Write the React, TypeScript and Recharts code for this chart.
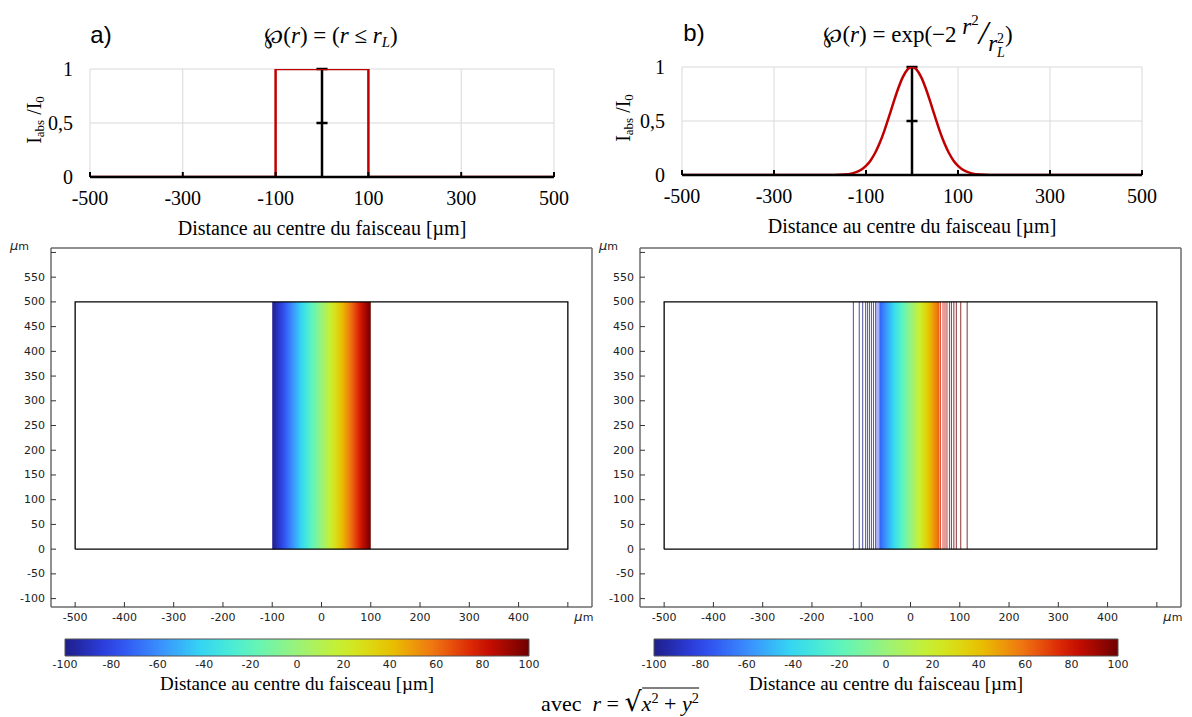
import React from 'react';
import {
  LineChart,
  ComposedChart,
  Line,
  Area,
  XAxis,
  YAxis,
  CartesianGrid,
  ReferenceLine,
  ReferenceArea,
} from 'recharts';

// profils d'intensité (graphes du haut)
const profileTicksX = [-500, -300, -100, 100, 300, 500];
const profileTicksY = [0, 0.5, 1];

const topHatX = [-500, -100, -100, 100, 100, 500];
const topHatI = [0, 0, 1, 1, 0, 0];

const gaussX = [
  -500, -250, -200, -170, -150, -130, -115, -100, -90, -80, -70, -60, -50, -40, -30, -20, -10,
  0, 10, 20, 30, 40, 50, 60, 70, 80, 90, 100, 115, 130, 150, 170, 200, 250, 500,
];
const gaussI = [
  0, 0, 0, 0.001, 0.004, 0.015, 0.038, 0.085, 0.135, 0.206, 0.298, 0.411, 0.54, 0.674, 0.801, 0.906, 0.976,
  1, 0.976, 0.906, 0.801, 0.674, 0.54, 0.411, 0.298, 0.206, 0.135, 0.085, 0.038, 0.015, 0.004, 0.001, 0, 0, 0,
];

// domaine 2D (graphes du bas)
const domainX = [-500, 500, 500, -500, -500];
const domainY = [0, 0, 500, 500, 0];
const gridX = [-500, -400, -300, -200, -100, 0, 100, 200, 300, 400, 500];
const gridY = [-100, -50, 0, 50, 100, 150, 200, 250, 300, 350, 400, 450, 500, 550, 600];

const bandA = [-100, 100];
const bandAColor = [-100, 100];
const bandB = [-63, 59];
const bandBColor = [-72, 64];
const contoursB = [
  -116, -104, -97, -91, -87, -83, -79, -75, -71, -68, -64,
  61, 66, 70, 74, 79, 83, 88, 93, 102, 115,
];

const colorbarTicks = [-100, -80, -60, -40, -20, 0, 20, 40, 60, 80, 100];

const JET: [number, string][] = [
  [-100, '#1f1f8a'],
  [-80, '#2e44ec'],
  [-60, '#3a8cff'],
  [-40, '#34daf2'],
  [-20, '#5cf6c0'],
  [0, '#9af27a'],
  [20, '#ccf02a'],
  [40, '#e8c400'],
  [60, '#f07012'],
  [80, '#d41000'],
  [100, '#6e0000'],
];

function hexToRgb(h: string) {
  return [1, 3, 5].map((i) => parseInt(h.slice(i, i + 2), 16));
}

function jet(v: number) {
  const t = Math.max(-100, Math.min(100, v));
  for (let i = 0; i < JET.length - 1; i++) {
    const [a, ca] = JET[i];
    const [b, cb] = JET[i + 1];
    if (t >= a && t <= b) {
      const f = (t - a) / (b - a);
      const A = hexToRgb(ca);
      const B = hexToRgb(cb);
      const c = A.map((x, k) => Math.round(x + (B[k] - x) * f));
      return `rgb(${c[0]},${c[1]},${c[2]})`;
    }
  }
  return JET[JET.length - 1][1];
}

// les iso-lignes sont un peu plus foncées que le dégradé
const contourColor = (c: number) => jet(Math.sign(c) * Math.min(100, Math.abs(c) + 15));

function gradientStops(from: number, to: number) {
  const n = 24;
  return Array.from({ length: n + 1 }, (_, i) => (
    <stop key={i} offset={i / n} stopColor={jet(from + ((to - from) * i) / n)} />
  ));
}

const serif = '"Liberation Serif", "Times New Roman", serif';
const sans = '"DejaVu Sans", sans-serif';
const frameAxis = { stroke: '#6b6b6b', strokeWidth: 1.5 };
const frameTick = { stroke: '#333', strokeWidth: 1 };

const XTick = (props: any) => {
  const { x, y, payload } = props;
  if (payload.value === 500) {
    return (
      <text x={x + 16} y={y} dy="0.71em" textAnchor="middle" fontSize={11} fill="#222" fontFamily={sans}>
        <tspan fontStyle="italic" fontSize={13}>µ</tspan>m
      </text>
    );
  }
  return (
    <text x={x} y={y} dy="0.71em" textAnchor="middle" fontSize={11} fill="#222" fontFamily={sans}>
      {payload.value}
    </text>
  );
};

const YTick = (props: any) => {
  const { x, y, payload } = props;
  if (payload.value === 600) {
    return (
      <text x={x - 16} y={y - 6} dy="0.32em" textAnchor="end" fontSize={11} fill="#222" fontFamily={sans}>
        <tspan fontStyle="italic" fontSize={13}>µ</tspan>m
      </text>
    );
  }
  return (
    <text x={x} y={y} dy="0.32em" textAnchor="end" fontSize={11} fill="#222" fontFamily={sans}>
      {payload.value}
    </text>
  );
};

function ProfileChart({ left, margin, xs, ys, curve }: any) {
  const data = xs.map((x: number, i: number) => ({ x, i: ys[i] }));
  return (
    <div style={{ position: 'absolute', left, top: 0 }}>
      <LineChart width={600} height={240} data={data} margin={margin}>
        <CartesianGrid stroke="#d9d9d9" strokeWidth={1} />
        <XAxis
          dataKey="x"
          type="number"
          domain={[-500, 500]}
          ticks={profileTicksX}
          interval={0}
          height={50}
          allowDataOverflow
          axisLine={{ stroke: '#000', strokeWidth: 2.5 }}
          tickLine={{ stroke: '#000', strokeWidth: 2 }}
          tickSize={-5}
          tickMargin={19}
          tick={{ fill: '#000', fontSize: 20, fontFamily: serif }}
        />
        <YAxis
          type="number"
          domain={[0, 1]}
          ticks={profileTicksY}
          interval={0}
          width={30}
          allowDataOverflow
          axisLine={false}
          tickLine={false}
          tickSize={0}
          tickMargin={17}
          tickFormatter={(v: number) => String(v).replace('.', ',')}
          tick={{ fill: '#000', fontSize: 20, fontFamily: serif }}
        />
        <ReferenceLine x={0} stroke="#000" strokeWidth={2.5} />
        {profileTicksY.slice(1).map((v) => (
          <ReferenceLine
            key={v}
            segment={[{ x: -12, y: v }, { x: 12, y: v }]}
            stroke="#000"
            strokeWidth={2.5}
          />
        ))}
        <Line
          dataKey="i"
          type={curve}
          stroke="#c00000"
          strokeWidth={2.5}
          dot={false}
          isAnimationActive={false}
        />
      </LineChart>
    </div>
  );
}

function DomainPanel({ left, gid, band, bandColor, contours }: any) {
  const data = domainX.map((x, i) => ({ x, y: domainY[i] }));
  return (
    <div style={{ position: 'absolute', left, top: 230 }}>
      <ComposedChart width={600} height={400} data={data} margin={{ top: 16, right: 6, bottom: 3, left: 11 }}>
        <defs>
          <linearGradient id={gid} x1="0" y1="0" x2="1" y2="0">
            {gradientStops(bandColor[0], bandColor[1])}
          </linearGradient>
        </defs>
        <XAxis
          xAxisId="b"
          dataKey="x"
          type="number"
          domain={[-549, 549]}
          ticks={gridX}
          interval={0}
          height={20}
          allowDataOverflow
          tickSize={-5}
          tickMargin={11}
          axisLine={frameAxis}
          tickLine={frameTick}
          tick={<XTick />}
        />
        <XAxis
          xAxisId="t"
          orientation="top"
          type="number"
          domain={[-549, 549]}
          ticks={gridX}
          interval={0}
          height={2}
          allowDataOverflow
          tickSize={-5}
          axisLine={frameAxis}
          tickLine={frameTick}
          tick={false}
        />
        <YAxis
          yAxisId="l"
          dataKey="y"
          type="number"
          domain={[-117, 609]}
          ticks={gridY}
          interval={0}
          width={40}
          allowDataOverflow
          tickSize={-5}
          tickMargin={11}
          axisLine={frameAxis}
          tickLine={frameTick}
          tick={<YTick />}
        />
        <YAxis
          yAxisId="r"
          orientation="right"
          type="number"
          domain={[-117, 609]}
          ticks={gridY}
          interval={0}
          width={2}
          allowDataOverflow
          tickSize={-5}
          axisLine={frameAxis}
          tickLine={frameTick}
          tick={false}
        />
        <ReferenceArea
          xAxisId="b"
          yAxisId="l"
          x1={band[0]}
          x2={band[1]}
          y1={0}
          y2={500}
          fill={`url(#${gid})`}
          fillOpacity={1}
          stroke="none"
        />
        {contours.map((c: number) => (
          <ReferenceLine
            key={c}
            xAxisId="b"
            yAxisId="l"
            segment={[{ x: c, y: 0 }, { x: c, y: 500 }]}
            stroke={contourColor(c)}
            strokeOpacity={0.8}
            strokeWidth={1}
          />
        ))}
        <Line
          xAxisId="b"
          yAxisId="l"
          dataKey="y"
          type="linear"
          stroke="#000"
          strokeWidth={1.3}
          dot={false}
          isAnimationActive={false}
        />
      </ComposedChart>
    </div>
  );
}

function ColorBar({ left, gid }: any) {
  const data = colorbarTicks.map((v) => ({ v, h: 1 }));
  return (
    <div style={{ position: 'absolute', left, top: 625 }}>
      <ComposedChart width={600} height={60} data={data} margin={{ top: 13, right: 71, bottom: 9, left: 65 }}>
        <defs>
          <linearGradient id={gid} x1="0" y1="0" x2="1" y2="0">
            {gradientStops(-100, 100)}
          </linearGradient>
        </defs>
        <XAxis
          dataKey="v"
          type="number"
          domain={[-100, 100]}
          ticks={colorbarTicks}
          interval={0}
          height={20}
          allowDataOverflow
          axisLine={false}
          tickLine={false}
          tickSize={0}
          tickMargin={4}
          tick={{ fill: '#222', fontSize: 11, fontFamily: sans }}
        />
        <XAxis
          xAxisId="t"
          orientation="top"
          type="number"
          domain={[-100, 100]}
          ticks={colorbarTicks}
          interval={0}
          height={1}
          allowDataOverflow
          axisLine={false}
          tickSize={-4}
          tickLine={{ stroke: '#333', strokeWidth: 1 }}
          tick={false}
        />
        <YAxis type="number" domain={[0, 1]} hide allowDataOverflow />
        <Area
          dataKey="h"
          type="linear"
          stroke="none"
          fill={`url(#${gid})`}
          fillOpacity={1}
          isAnimationActive={false}
        />
        <ReferenceArea x1={-100} x2={100} y1={0} y2={1} fill="none" stroke="#555" strokeWidth={1} />
      </ComposedChart>
    </div>
  );
}

const at = (x: number, y: number, extra: React.CSSProperties = {}): React.CSSProperties => ({
  position: 'absolute',
  left: x,
  top: y,
  transform: 'translate(-50%, -50%)',
  whiteSpace: 'nowrap',
  lineHeight: 1,
  ...extra,
});

const sub: React.CSSProperties = { fontSize: '0.65em', verticalAlign: '-0.3em' };
const sup: React.CSSProperties = { fontSize: '0.65em', verticalAlign: '0.55em' };

function YLabel({ x, y }: { x: number; y: number }) {
  return (
    <div style={at(x, y, { transform: 'translate(-50%, -50%) rotate(-90deg)', fontFamily: serif, fontSize: 20 })}>
      I<span style={sub}>abs</span> /I<span style={sub}>0</span>
    </div>
  );
}

export default function App() {
  const xTitle = 'Distance au centre du faisceau [µm]';
  return (
    <div style={{ position: 'absolute', left: 0, top: 0, width: 1192, height: 717, background: '#fff', overflow: 'hidden' }}>
      <ProfileChart
        left={0}
        margin={{ top: 69, right: 46, bottom: 13, left: 60 }}
        xs={topHatX}
        ys={topHatI}
        curve="linear"
      />
      <ProfileChart
        left={590}
        margin={{ top: 67, right: 48, bottom: 15, left: 62 }}
        xs={gaussX}
        ys={gaussI}
        curve="monotone"
      />
      <DomainPanel left={0} gid="bandA" band={bandA} bandColor={bandAColor} contours={[]} />
      <DomainPanel left={589} gid="bandB" band={bandB} bandColor={bandBColor} contours={contoursB} />
      <ColorBar left={0} gid="cbA" />
      <ColorBar left={589} gid="cbB" />

      <div style={at(101, 35, { fontFamily: '"Liberation Sans", Arial, sans-serif', fontSize: 24 })}>a)</div>
      <div style={at(694, 33, { fontFamily: '"Liberation Sans", Arial, sans-serif', fontSize: 24 })}>b)</div>

      <div style={at(331, 37, { fontFamily: serif, fontSize: 23 })}>
        <span style={{ fontFamily: '"DejaVu Serif", serif' }}>℘</span>(<i>r</i>) = (<i>r</i> ≤ <i>r</i>
        <i style={sub}>L</i>)
      </div>
      <div style={at(918, 32, { fontFamily: serif, fontSize: 23 })}>
        <span style={{ fontFamily: '"DejaVu Serif", serif' }}>℘</span>(<i>r</i>) = exp(−2{' '}
        <span style={{ position: 'relative', top: -8 }}>
          <i>r</i>
          <span style={sup}>2</span>
        </span>
        <span style={{ fontSize: 34, fontStyle: 'italic', position: 'relative', top: 2 }}>/</span>
        <span style={{ position: 'relative', top: 9 }}>
          <i>r</i>
          <span style={{ display: 'inline-flex', flexDirection: 'column', fontSize: 14, lineHeight: 1, verticalAlign: 'middle' }}>
            <span>2</span>
            <i>L</i>
          </span>
        </span>
        )
      </div>

      <YLabel x={35} y={120} />
      <YLabel x={624} y={118} />

      <div style={at(322, 228, { fontFamily: serif, fontSize: 20 })}>{xTitle}</div>
      <div style={at(912, 226, { fontFamily: serif, fontSize: 20 })}>{xTitle}</div>
      <div style={at(297, 683, { fontFamily: serif, fontSize: 19 })}>{xTitle}</div>
      <div style={at(886, 683, { fontFamily: serif, fontSize: 19 })}>{xTitle}</div>

      <div style={at(620, 701, { fontFamily: serif, fontSize: 22 })}>
        avec&nbsp;&nbsp;<i>r</i> = <span style={{ fontSize: 27, fontFamily: '"DejaVu Serif", serif' }}>√</span>
        <span style={{ borderTop: '1.5px solid #000', paddingTop: 2 }}>
          <i>x</i>
          <span style={sup}>2</span> + <i>y</i>
          <span style={sup}>2</span>
        </span>
      </div>
    </div>
  );
}
